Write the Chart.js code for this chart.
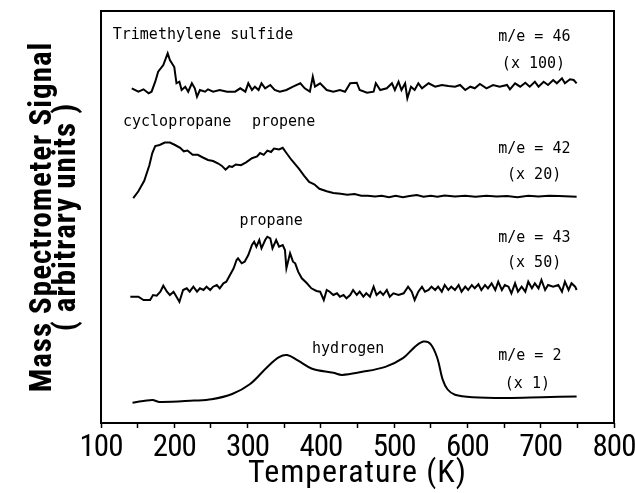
<!DOCTYPE html>
<html>
<head>
<meta charset="utf-8">
<script src="https://cdn.jsdelivr.net/npm/chart.js@4.4.0/dist/chart.umd.min.js"></script>
<style>
html, body { margin: 0; padding: 0; background: #fff; }
#wrap { width: 635px; height: 493px; position: relative; }
</style>
</head>
<body>
<div id="wrap"><canvas id="tpdChart"></canvas></div>
<script>
/* Temperature programmed desorption traces, offset for display (arbitrary units) */

// m/e = 46 (x 100) - trimethylene sulfide
const sulfideT = [142,151,158,165,169,174,178,185,191,194,200,203,207,210,215,219,224,228,231,235,
  242,246,253,262,272,283,290,297,301,306,310,315,319,324,331,337,344,353,362,372,
  378,385,389,392,399,408,417,426,433,440,449,453,463,472,475,481,490,497,501,506,
  510,515,518,523,528,533,538,547,556,565,574,583,590,597,604,610,617,626,635,644,
  654,658,665,672,679,685,692,697,704,710,717,722,729,733,740,745,749];
const sulfideSignal = [334.7,331.3,333.7,329.7,331.3,341.3,351.3,358,369.7,363,356,339.7,341.3,333,336.3,331.3,339.7,334.7,326.3,333,
  331.3,333.7,331.3,333,331.3,331.3,334.7,331.3,339.7,333,336.3,333,339.7,334.7,338,333,331.3,333,336.3,339.7,
  334.7,331.3,346.3,336.3,339.7,333,331.3,333,331.3,339.7,340.3,333,330.3,331.3,339.7,333,334.7,339.7,333,341.3,
  333,339.7,324.7,336.3,333,339.7,334.7,339.7,336.3,338,337,336.3,338,333,336.3,334.7,339,334.7,338,336.3,
  338,333.7,339.7,336.3,340.3,336.3,341.3,336.3,341.3,338,343,339.7,344.7,339.7,343.7,343,339.7];

// m/e = 42 (x 20) - cyclopropane / propene
const c42T = [144,151,159,166,170,174,180,187,194,201,208,213,218,225,232,239,246,253,260,265,
  270,275,279,284,291,298,306,313,317,322,327,332,336,343,348,353,360,370,377,384,
  391,398,408,417,427,436,446,455,464,474,483,493,502,512,521,531,540,550,559,569,
  583,597,611,626,640,654,668,683,697,711,725,749];
const c42Signal = [224.8,231.7,242.2,257.8,270,276.9,278,280.4,280.4,278,275.2,271.7,272.4,268.2,268.2,265.5,263,262,259.5,257.1,
  253.3,256.8,256.1,258.5,257.8,260.6,264.8,266.5,270,268.2,272.4,271,274.5,273.5,275.2,270,263,254.3,247.4,241.1,
  238.7,234.2,231.7,230,229.3,228.3,229,227.2,227.2,226.5,227.2,225.8,227.2,225.8,226.9,227.9,226.2,227.2,226.2,227.6,
  226.5,227.2,226.2,227.2,226.5,226.9,225.8,227.2,226.5,227.2,226.9,226.2];

// m/e = 43 (x 50) - propane
const propaneT = [140,151,158,167,171,176,181,185,190,194,199,203,207,212,217,221,226,231,235,240,
  244,249,253,258,262,267,271,276,281,285,287,292,296,301,306,309,312,316,319,324,
  327,331,334,339,343,348,351,353,358,362,365,369,374,381,387,394,399,404,408,412,
  417,422,426,431,435,440,444,449,453,458,462,467,472,476,481,485,490,494,499,506,
  513,519,524,528,533,538,542,547,551,556,560,565,569,574,578,583,588,592,597,601,
  606,610,615,619,624,628,633,638,642,647,651,656,660,665,669,674,679,683,688,692,
  697,701,706,710,717,724,729,733,738,742,747,749];
const propaneSignal = [126.3,126.3,123,123,128,127.3,131.3,137.3,131.3,128,131.3,126.3,121.3,133,134.7,131.3,136.3,131.3,134.7,133,
  136.3,133,136.3,138,134.7,139.7,141.3,148,154.7,163,164.7,159.7,161.3,168,178,181.3,176.3,183,174.7,183,
  186.3,184.7,174.7,183,176.3,178,173,154.7,169.7,161.3,159.7,151.3,144.7,139.7,134.7,132,131.3,123,133,131.3,
  128,129.7,126.3,128,124.7,128,133,128,131.3,126.3,129.7,126.3,136.3,128,131.3,128,133,126.3,129.7,128,
  129.7,136.3,131.3,123,131.3,136.3,131.3,133,136.3,133,136.3,131.3,138,133,136.3,133,138,131.3,136.3,133,
  138,134.7,138.7,133,138,134.7,139.7,133,141.3,133,138,136.3,129.7,139.7,131.3,136.3,131.3,141.3,134.7,139.7,
  134.7,143,133,138,136.3,138,131.3,141.3,133,139.7,136.3,133];

// m/e = 2 (x 1) - hydrogen
const hydrogenT = [143,170,180,227,251,279,303,327,343,354,369,388,417,429,455,488,512,528,540,550,
  559,566,573,583,607,654,702,749];
const hydrogenSignal = [20.3,23,21,22.4,23.7,29,38.7,56.1,65.8,67.9,62.3,54.3,50.2,48.1,50.9,56.1,64.8,75.9,81.4,78.7,
  64.8,43.9,33.5,28.3,25.8,25.1,25.8,26.5];

const tempTicks = [100, 200, 300, 400, 500, 600, 700, 800];

// text written inside the plot, placed at (temperature, signal)
const traceLabels = [
  { text: 'Trimethylene sulfide', t: 116, v: 388 },
  { text: 'm/e = 46', t: 642, v: 386 },
  { text: '(x 100)', t: 647, v: 359 },
  { text: 'cyclopropane', t: 130, v: 301 },
  { text: 'propene', t: 306, v: 301 },
  { text: 'm/e = 42', t: 642, v: 273.5 },
  { text: '(x 20)', t: 654, v: 247.5 },
  { text: 'propane', t: 289, v: 202 },
  { text: 'm/e = 43', t: 642, v: 185 },
  { text: '(x 50)', t: 654, v: 160 },
  { text: 'hydrogen', t: 388, v: 73.5 },
  { text: 'm/e = 2', t: 642, v: 66.5 },
  { text: '(x 1)', t: 651, v: 39 }
];

const narrow = "'Roboto Condensed', 'Liberation Sans Narrow', 'DejaVu Sans Condensed', sans-serif";
const mono = "'DejaVu Sans Mono', monospace";

function pts(xs, ys) {
  return xs.map((x, i) => ({ x: x, y: ys[i] }));
}

function trace(xs, ys, tension) {
  return {
    data: pts(xs, ys),
    borderColor: '#000',
    borderWidth: 2,
    pointRadius: 0,
    fill: false,
    tension: tension || 0
  };
}

// plotter lettering: titles are spaced out, tick numbers sit close together
const letterFit = {
  id: 'letterFit',
  beforeDraw(chart) { chart.ctx.letterSpacing = '1px'; },
  afterDatasetsDraw(chart) { chart.ctx.letterSpacing = '-1px'; }
};

// box around plot + in-plot labels
const framePlugin = {
  id: 'frame',
  afterDraw(chart) {
    const { ctx, chartArea: a, scales } = chart;
    ctx.letterSpacing = '0px';
    ctx.save();
    ctx.strokeStyle = '#000';
    ctx.lineWidth = 2;
    ctx.strokeRect(a.left, a.top, a.right - a.left, a.bottom - a.top);
    ctx.fillStyle = '#000';
    ctx.font = '15px ' + mono;
    ctx.textAlign = 'left';
    ctx.textBaseline = 'middle';
    traceLabels.forEach(l => {
      ctx.fillText(l.text, scales.x.getPixelForValue(l.t), scales.y.getPixelForValue(l.v));
    });
    ctx.restore();
  }
};

const tpdChart = new Chart(document.getElementById('tpdChart'), {
  type: 'line',
  data: {
    datasets: [
      trace(sulfideT, sulfideSignal),
      trace(c42T, c42Signal),
      trace(propaneT, propaneSignal),
      trace(hydrogenT, hydrogenSignal, 0.35)
    ]
  },
  options: {
    responsive: true,
    maintainAspectRatio: false,
    animation: false,
    layout: { padding: { top: 11, right: 21, left: 0, bottom: 0 } },
    plugins: {
      legend: { display: false },
      tooltip: { enabled: false }
    },
    scales: {
      x: {
        type: 'linear',
        min: 100,
        max: 800,
        afterFit: s => { s.height = 70; s.paddingLeft = 0; s.paddingRight = 0; },
        border: { display: false },
        grid: { drawOnChartArea: false, drawTicks: true, tickLength: 5, color: '#000', tickWidth: 1.5 },
        ticks: {
          z: 1,
          stepSize: 50,
          color: '#000',
          padding: 2,
          maxRotation: 0,
          autoSkip: false,
          font: { family: narrow, size: 31 },
          callback: v => tempTicks.includes(v) ? String(v) : ''
        },
        title: {
          display: true,
          text: 'Temperature (K)',
          color: '#000',
          font: { family: narrow, size: 32, lineHeight: 1 },
          padding: { top: 0, bottom: 3 }
        }
      },
      y: {
        min: 0,
        max: 412,
        afterFit: s => { s.width = 101; },
        border: { display: false },
        grid: { display: false },
        ticks: { display: false },
        title: {
          display: true,
          text: ['Mass Spectrometer Signal', '( arbitrary units )'],
          color: '#000',
          font: { family: narrow, size: 31, weight: 'bold', lineHeight: 0.78 },
          padding: { top: 31, bottom: 0 }
        }
      }
    }
  },
  plugins: [letterFit, framePlugin]
});
</script>
</body>
</html>
